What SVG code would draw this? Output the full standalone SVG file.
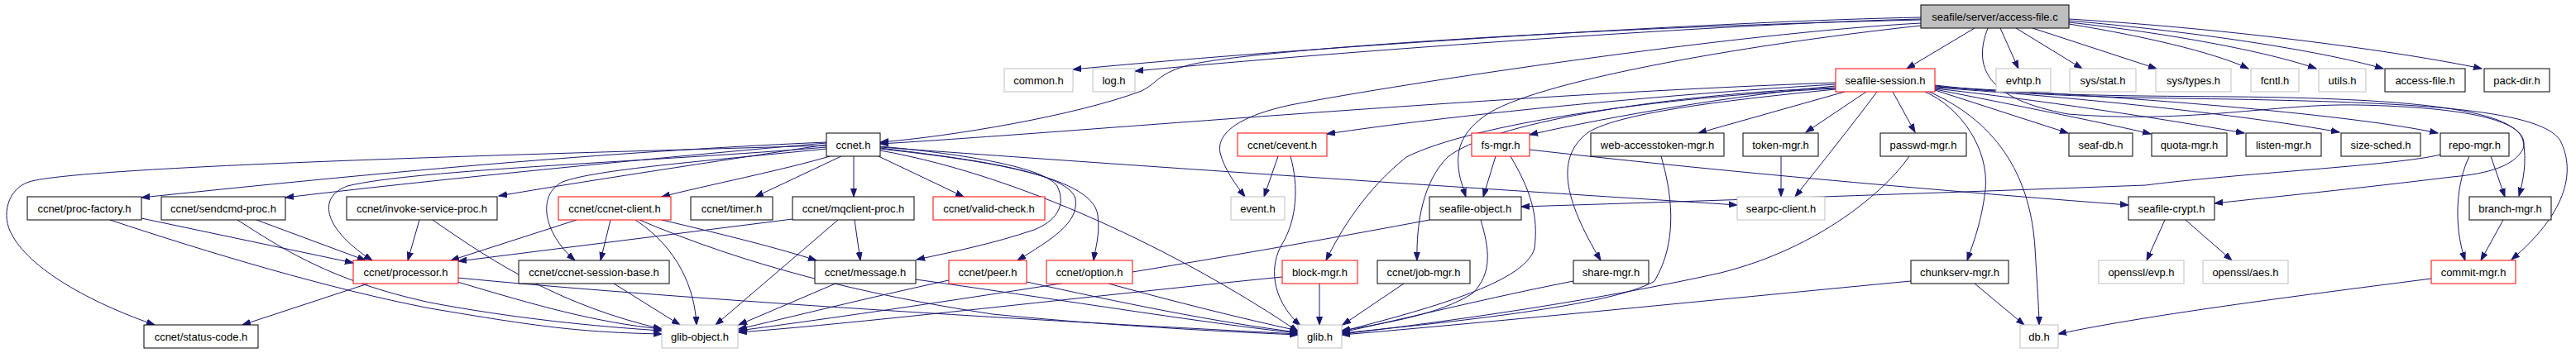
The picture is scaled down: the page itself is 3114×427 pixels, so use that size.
<svg xmlns="http://www.w3.org/2000/svg" width="3114" height="427" viewBox="0 0 3114 427">
<style>
.nd rect{fill:#fff;stroke:#000;stroke-width:1}
.nd.red rect{stroke:#ff0000}
.nd.gry rect{stroke:#bfbfbf}
.nd.root rect{fill:#bfbfbf;stroke:#000}
.nd text{font-family:"Liberation Sans",Arial,sans-serif;font-size:13px;fill:#000;text-anchor:middle}
#edges path{fill:none;stroke:#191970;stroke-width:1;marker-end:url(#ah)}
</style>
<defs>
<marker id="ah" markerWidth="11" markerHeight="8" refX="10" refY="4" orient="auto" markerUnits="userSpaceOnUse">
<path d="M0,0.5 L10,4 L0,7.5 z" fill="#191970" stroke="#191970" stroke-width="1"/>
</marker>
</defs>
<rect width="3114" height="427" fill="#fff"/>
<g id="edges">
<!-- access-file.c -->
<path d="M2322,21 C2100,25 1600,55 1297,84"/>
<path d="M2322,23 C2100,28 1620,62 1372,86"/>
<path d="M2322,24 C1900,34 1520,60 1440,78 C1400,88 1400,100 1380,110 C1300,140 1150,165 1064,172"/>
<path d="M2322,28 C2100,40 1700,100 1560,127 C1500,140 1470,160 1475,185 C1480,205 1495,225 1505,238"/>
<path d="M2322,31 C2100,55 1850,100 1795,140 C1760,165 1760,190 1765,215 C1768,225 1770,232 1772,238"/>
<path d="M2387,34 L2305,83"/>
<path d="M2418,34 L2440,83"/>
<path d="M2437,34 L2517,83"/>
<path d="M2457,34 L2607,83"/>
<path d="M2501,29 C2600,45 2680,65 2718,83"/>
<path d="M2501,27 C2620,40 2740,62 2800,83"/>
<path d="M2501,25 C2650,38 2800,60 2881,83"/>
<path d="M2501,23 C2700,35 2900,62 3000,83"/>
<path d="M2403,34 C2385,80 2400,120 2500,138 C2650,150 2750,125 2850,127 C3000,130 3060,150 3050,180 C3040,200 3010,210 2964,214 C2850,228 2750,238 2677,246"/>
<!-- seafile-session.h -->
<path d="M2219,100 C1800,115 1300,160 1064,174"/>
<path d="M2219,102 C2000,115 1750,140 1604,162"/>
<path d="M2219,104 C2100,115 1950,140 1849,163"/>
<path d="M2230,111 L2053,161"/>
<path d="M2256,111 L2183,160"/>
<path d="M2288,111 L2315,160"/>
<path d="M2269,111 C2240,150 2200,200 2170,238"/>
<path d="M2339,109 L2500,161"/>
<path d="M2339,108 C2450,130 2550,150 2600,162"/>
<path d="M2339,107 C2500,125 2650,150 2713,161"/>
<path d="M2339,106 C2550,120 2750,145 2828,160"/>
<path d="M2339,105 C2600,118 2850,140 2947,161"/>
<path d="M2339,104 C2450,115 2550,116 2700,117 C2900,119 3040,130 3050,170 C3055,195 3050,220 3045,237"/>
<path d="M2339,103 C2450,116 2550,118 2700,120 C2900,124 3070,130 3095,170 C3115,210 3100,260 3036,314"/>
<path d="M2327,111 C2370,130 2405,180 2400,230 C2395,270 2385,295 2378,315"/>
<path d="M2332,111 C2420,150 2455,220 2460,300 C2463,350 2465,380 2465,393"/>
<path d="M2219,108 C2100,120 1960,135 1920,160 C1880,190 1890,240 1935,315"/>
<path d="M2219,106 C2000,115 1800,150 1750,190 C1720,220 1712,270 1713,315"/>
<path d="M2219,107 C2000,118 1780,150 1700,190 C1650,230 1620,280 1603,315"/>
<!-- ccnet.h -->
<path d="M999,172 C700,185 400,215 171,239"/>
<path d="M999,173 C800,190 500,220 345,239"/>
<path d="M999,175 C900,190 700,220 603,237"/>
<path d="M1003,189 C950,205 850,225 800,238"/>
<path d="M1017,189 L913,238"/>
<path d="M1032,189 L1032,238"/>
<path d="M1062,189 L1165,238"/>
<path d="M999,178 C800,195 500,205 420,225 C380,240 395,280 450,315"/>
<path d="M999,180 C850,195 720,205 680,220 C650,235 655,280 695,315"/>
<path d="M1064,177 C1150,185 1260,200 1278,225 C1290,250 1275,268 1250,278 C1200,295 1150,305 1108,314"/>
<path d="M1064,179 C1150,190 1290,205 1300,240 C1305,270 1270,290 1230,315"/>
<path d="M1064,180 C1170,192 1320,210 1327,260 C1330,285 1324,300 1322,315"/>
<path d="M1064,182 C1250,215 1450,320 1569,401"/>
<path d="M1064,178 C1500,210 1900,235 2100,248"/>
<path d="M999,176 C700,185 100,200 35,220 C10,228 0,260 15,285 C40,330 120,370 187,393"/>
<!-- others -->
<path d="M171,264 L427,318"/>
<path d="M133,266 C250,305 400,350 520,373 C650,395 700,402 800,404"/>
<path d="M310,266 L442,315"/>
<path d="M287,266 C340,300 400,340 520,366 C620,385 720,395 800,400"/>
<path d="M507,266 L493,315"/>
<path d="M523,266 C600,320 680,370 800,398"/>
<path d="M697,266 L545,315"/>
<path d="M738,266 L726,315"/>
<path d="M768,266 C820,300 840,350 842,393"/>
<path d="M800,266 C880,285 940,300 987,315"/>
<path d="M773,266 C900,320 1040,356 1200,380 C1350,395 1500,402 1569,405"/>
<path d="M958,265 L554,316"/>
<path d="M1013,266 L865,393"/>
<path d="M1033,266 L1040,315"/>
<path d="M445,343 L293,393"/>
<path d="M553,341 C650,370 720,390 800,398"/>
<path d="M553,336 C800,360 1200,385 1569,404"/>
<path d="M742,343 L822,393"/>
<path d="M1010,343 L893,393"/>
<path d="M1107,338 C1300,365 1450,390 1569,403"/>
<path d="M1147,339 C1050,360 950,385 893,398"/>
<path d="M1241,341 C1350,365 1470,390 1569,402"/>
<path d="M1340,343 C1420,365 1500,385 1569,400"/>
<path d="M1550,335 C1300,360 1050,390 893,402"/>
<path d="M1595,343 L1595,393"/>
<path d="M1728,266 C1600,290 1300,345 893,400"/>
<path d="M1790,266 C1800,300 1805,330 1780,355 C1740,380 1680,390 1622,400"/>
<path d="M1808,189 L1793,238"/>
<path d="M1826,189 C1850,230 1860,260 1855,300 C1845,345 1700,380 1622,401"/>
<path d="M1849,181 C2100,210 2400,235 2573,248"/>
<path d="M1697,343 L1623,393"/>
<path d="M1902,340 C1800,360 1700,385 1622,402"/>
<path d="M2008,189 C2020,230 2030,290 2000,340 C1950,370 1750,390 1622,403"/>
<path d="M2308,189 C2280,230 2200,300 2080,330 C1900,370 1700,395 1622,404"/>
<path d="M2310,340 C2100,360 1800,390 1622,405"/>
<path d="M2153,189 L2153,238"/>
<path d="M2387,343 L2447,393"/>
<path d="M2617,266 L2595,315"/>
<path d="M2642,266 L2698,315"/>
<path d="M2950,187 C2900,200 2700,210 2594,224 C2300,235 2000,245 1839,250"/>
<path d="M3011,189 L3028,238"/>
<path d="M2985,189 C2970,220 2965,270 2980,315"/>
<path d="M3026,266 L2999,315"/>
<path d="M2939,337 C2800,355 2600,380 2488,404"/>
<path d="M1545,189 L1528,238"/>
<path d="M1560,189 C1570,225 1568,265 1550,295 C1535,320 1535,360 1572,394"/>
</g>
<g id="n_access_file_c" class="nd root"><rect x="2322" y="6" width="179" height="28"/><text x="2411.5" y="24.5">seafile/server/access-file.c</text></g>
<g id="n_common_h" class="nd gry"><rect x="1214" y="83" width="83" height="28"/><text x="1255.5" y="101.5">common.h</text></g>
<g id="n_log_h" class="nd gry"><rect x="1321" y="83" width="51" height="28"/><text x="1346.5" y="101.5">log.h</text></g>
<g id="n_seafile_session_h" class="nd red"><rect x="2219" y="83" width="120" height="28"/><text x="2279" y="101.5">seafile-session.h</text></g>
<g id="n_evhtp_h" class="nd gry"><rect x="2413" y="83" width="66" height="28"/><text x="2446" y="101.5">evhtp.h</text></g>
<g id="n_sys_stat_h" class="nd gry"><rect x="2502" y="83" width="80" height="28"/><text x="2542" y="101.5">sys/stat.h</text></g>
<g id="n_sys_types_h" class="nd gry"><rect x="2606" y="83" width="91" height="28"/><text x="2651.5" y="101.5">sys/types.h</text></g>
<g id="n_fcntl_h" class="nd gry"><rect x="2721" y="83" width="58" height="28"/><text x="2750" y="101.5">fcntl.h</text></g>
<g id="n_utils_h" class="nd gry"><rect x="2803" y="83" width="57" height="28"/><text x="2831.5" y="101.5">utils.h</text></g>
<g id="n_access_file_h" class="nd"><rect x="2883" y="83" width="97" height="28"/><text x="2931.5" y="101.5">access-file.h</text></g>
<g id="n_pack_dir_h" class="nd"><rect x="3003" y="83" width="79" height="28"/><text x="3042.5" y="101.5">pack-dir.h</text></g>
<g id="n_ccnet_h" class="nd"><rect x="999" y="161" width="65" height="28"/><text x="1031.5" y="179.5">ccnet.h</text></g>
<g id="n_cevent_h" class="nd red"><rect x="1496" y="161" width="108" height="28"/><text x="1550" y="179.5">ccnet/cevent.h</text></g>
<g id="n_fs_mgr_h" class="nd red"><rect x="1779" y="161" width="70" height="28"/><text x="1814" y="179.5">fs-mgr.h</text></g>
<g id="n_web_accesstoken_mgr_h" class="nd"><rect x="1923" y="161" width="161" height="28"/><text x="2003.5" y="179.5">web-accesstoken-mgr.h</text></g>
<g id="n_token_mgr_h" class="nd"><rect x="2107" y="161" width="91" height="28"/><text x="2152.5" y="179.5">token-mgr.h</text></g>
<g id="n_passwd_mgr_h" class="nd"><rect x="2273" y="161" width="104" height="28"/><text x="2325" y="179.5">passwd-mgr.h</text></g>
<g id="n_seaf_db_h" class="nd"><rect x="2501" y="161" width="77" height="28"/><text x="2539.5" y="179.5">seaf-db.h</text></g>
<g id="n_quota_mgr_h" class="nd"><rect x="2601" y="161" width="91" height="28"/><text x="2646.5" y="179.5">quota-mgr.h</text></g>
<g id="n_listen_mgr_h" class="nd"><rect x="2715" y="161" width="91" height="28"/><text x="2760.5" y="179.5">listen-mgr.h</text></g>
<g id="n_size_sched_h" class="nd"><rect x="2830" y="161" width="96" height="28"/><text x="2878" y="179.5">size-sched.h</text></g>
<g id="n_repo_mgr_h" class="nd"><rect x="2950" y="161" width="83" height="28"/><text x="2991.5" y="179.5">repo-mgr.h</text></g>
<g id="n_proc_factory_h" class="nd"><rect x="33" y="238" width="138" height="28"/><text x="102" y="256.5">ccnet/proc-factory.h</text></g>
<g id="n_sendcmd_proc_h" class="nd"><rect x="195" y="238" width="150" height="28"/><text x="270" y="256.5">ccnet/sendcmd-proc.h</text></g>
<g id="n_invoke_service_proc_h" class="nd"><rect x="419" y="238" width="182" height="28"/><text x="510" y="256.5">ccnet/invoke-service-proc.h</text></g>
<g id="n_ccnet_client_h" class="nd red"><rect x="675" y="238" width="136" height="28"/><text x="743" y="256.5">ccnet/ccnet-client.h</text></g>
<g id="n_timer_h" class="nd"><rect x="835" y="238" width="99" height="28"/><text x="884.5" y="256.5">ccnet/timer.h</text></g>
<g id="n_mqclient_proc_h" class="nd"><rect x="958" y="238" width="147" height="28"/><text x="1031.5" y="256.5">ccnet/mqclient-proc.h</text></g>
<g id="n_valid_check_h" class="nd red"><rect x="1128" y="238" width="135" height="28"/><text x="1195.5" y="256.5">ccnet/valid-check.h</text></g>
<g id="n_event_h" class="nd gry"><rect x="1488" y="238" width="65" height="28"/><text x="1520.5" y="256.5">event.h</text></g>
<g id="n_seafile_object_h" class="nd"><rect x="1728" y="238" width="111" height="28"/><text x="1783.5" y="256.5">seafile-object.h</text></g>
<g id="n_searpc_client_h" class="nd gry"><rect x="2100" y="238" width="106" height="28"/><text x="2153" y="256.5">searpc-client.h</text></g>
<g id="n_seafile_crypt_h" class="nd"><rect x="2573" y="238" width="104" height="28"/><text x="2625" y="256.5">seafile-crypt.h</text></g>
<g id="n_branch_mgr_h" class="nd"><rect x="2985" y="238" width="99" height="28"/><text x="3034.5" y="256.5">branch-mgr.h</text></g>
<g id="n_processor_h" class="nd red"><rect x="427" y="315" width="127" height="28"/><text x="490.5" y="333.5">ccnet/processor.h</text></g>
<g id="n_ccnet_session_base_h" class="nd"><rect x="627" y="315" width="182" height="28"/><text x="718" y="333.5">ccnet/ccnet-session-base.h</text></g>
<g id="n_message_h" class="nd"><rect x="985" y="315" width="122" height="28"/><text x="1046" y="333.5">ccnet/message.h</text></g>
<g id="n_peer_h" class="nd red"><rect x="1147" y="315" width="94" height="28"/><text x="1194" y="333.5">ccnet/peer.h</text></g>
<g id="n_option_h" class="nd red"><rect x="1265" y="315" width="104" height="28"/><text x="1317" y="333.5">ccnet/option.h</text></g>
<g id="n_block_mgr_h" class="nd red"><rect x="1550" y="315" width="91" height="28"/><text x="1595.5" y="333.5">block-mgr.h</text></g>
<g id="n_job_mgr_h" class="nd"><rect x="1665" y="315" width="112" height="28"/><text x="1721" y="333.5">ccnet/job-mgr.h</text></g>
<g id="n_share_mgr_h" class="nd"><rect x="1902" y="315" width="91" height="28"/><text x="1947.5" y="333.5">share-mgr.h</text></g>
<g id="n_chunkserv_mgr_h" class="nd"><rect x="2310" y="315" width="118" height="28"/><text x="2369" y="333.5">chunkserv-mgr.h</text></g>
<g id="n_openssl_evp_h" class="nd gry"><rect x="2537" y="315" width="103" height="28"/><text x="2588.5" y="333.5">openssl/evp.h</text></g>
<g id="n_openssl_aes_h" class="nd gry"><rect x="2663" y="315" width="103" height="28"/><text x="2714.5" y="333.5">openssl/aes.h</text></g>
<g id="n_commit_mgr_h" class="nd red"><rect x="2939" y="315" width="102" height="28"/><text x="2990" y="333.5">commit-mgr.h</text></g>
<g id="n_status_code_h" class="nd"><rect x="174" y="393" width="138" height="28"/><text x="243" y="411.5">ccnet/status-code.h</text></g>
<g id="n_glib_object_h" class="nd gry"><rect x="800" y="393" width="92" height="28"/><text x="846" y="411.5">glib-object.h</text></g>
<g id="n_glib_h" class="nd gry"><rect x="1569" y="393" width="53" height="28"/><text x="1595.5" y="411.5">glib.h</text></g>
<g id="n_db_h" class="nd gry"><rect x="2442" y="393" width="46" height="28"/><text x="2465" y="411.5">db.h</text></g>
</svg>
